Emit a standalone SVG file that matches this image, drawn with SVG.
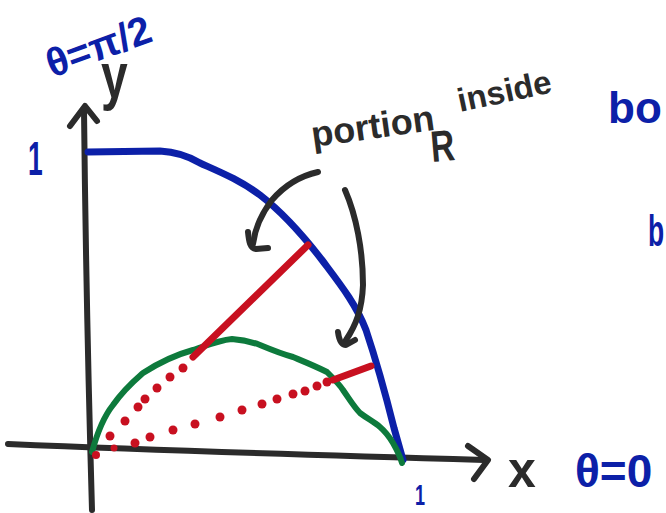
<svg xmlns="http://www.w3.org/2000/svg" width="666" height="513" viewBox="0 0 666 513">
<style>
.ax{fill:none;stroke:#2b2b2b;stroke-width:6;stroke-linecap:round;stroke-linejoin:round}
.bl{fill:none;stroke:#0c20a8;stroke-width:7;stroke-linecap:round;stroke-linejoin:round}
.rd{fill:none;stroke:#c81020;stroke-width:7;stroke-linecap:round}
.gr{fill:none;stroke:#0d7a3c;stroke-width:6;stroke-linecap:round;stroke-linejoin:round}
.dot{fill:#c81020}
.tk{font-family:"Liberation Sans",Arial,sans-serif;font-weight:bold;fill:#2b2b2b}
.tb{font-family:"Liberation Sans",Arial,sans-serif;font-weight:bold;fill:#0c20a8}
</style>
<rect width="666" height="513" fill="#ffffff"/>
<g id="axes">
<path class="ax" d="M84,110 Q86,300 92,510"/>
<path class="ax" d="M70,126 L85,106 L97,121"/>
<path class="ax" d="M8,444 Q200,452 484,460"/>
<path class="ax" d="M468,446 L488,460 L474,479"/>
</g>
<g id="boundary-circle">
<path class="bl" d="M88,152 L160,151 C178,152 190,157 200,163 C220,172 240,180 260,195 C282,212 302,234 322,260 C340,284 356,304 366,330 C376,360 386,396 394,428 L403,460"/>
</g>
<g id="inner-curve">
<path class="gr" d="M92,452 C98,430 105,415 113,405 C125,388 135,380 143,373 C160,362 175,355 193,350 C210,344 220,340 232,339 C245,340 252,342 260,345 C272,350 282,354 293,357 C305,362 315,366 327,372 C335,380 340,385 343,390 C350,400 354,407 360,413 C368,419 374,422 380,427 C387,433 390,438 393,443 C397,450 400,456 402,463"/>
</g>
<g id="red-rays">
<path class="rd" d="M193,357 L308,245"/>
<path class="rd" d="M333,380 L371,366"/>
<circle class="dot" cx="96" cy="455" r="4"/>
<circle class="dot" cx="110" cy="436" r="4.5"/>
<circle class="dot" cx="125" cy="421" r="4.5"/>
<circle class="dot" cx="138" cy="407" r="4.5"/>
<circle class="dot" cx="145" cy="399" r="4.5"/>
<circle class="dot" cx="157" cy="388" r="4.5"/>
<circle class="dot" cx="170" cy="377" r="4.5"/>
<circle class="dot" cx="183" cy="368" r="4.5"/>
<circle class="dot" cx="114" cy="448" r="3.5"/>
<circle class="dot" cx="135" cy="443" r="4.5"/>
<circle class="dot" cx="150" cy="437" r="4.5"/>
<circle class="dot" cx="173" cy="430" r="4.5"/>
<circle class="dot" cx="195" cy="424" r="4.5"/>
<circle class="dot" cx="220" cy="417" r="4.5"/>
<circle class="dot" cx="242" cy="410" r="4.5"/>
<circle class="dot" cx="262" cy="404" r="4.5"/>
<circle class="dot" cx="277" cy="399" r="4.5"/>
<circle class="dot" cx="293" cy="394" r="4.5"/>
<circle class="dot" cx="305" cy="391" r="4.5"/>
<circle class="dot" cx="317" cy="386" r="4.5"/>
<circle class="dot" cx="327" cy="382" r="4.5"/>
</g>
<g id="connectors">
<path class="ax" d="M318,172 C300,176 285,185 272,200 C262,213 255,228 253,244"/>
<path class="ax" d="M248,232 C249,242 250,248 256,249 L268,248"/>
<path class="ax" d="M345,190 C356,215 363,250 363,285 C362,310 356,325 346,340"/>
<path class="ax" d="M338,332 C339,340 341,345 346,345 L355,340"/>
</g>
<g id="labels">
<text class="tb" transform="translate(52,78) rotate(-20)" font-size="40">θ=π/2</text>
<text class="tk" transform="translate(101,98) scale(0.75,1)" font-size="64">y</text>
<text class="tb" transform="translate(28,175) scale(0.55,1)" font-size="48">1</text>
<text class="tk" transform="translate(313,147) rotate(-8)" font-size="36">portion</text>
<text class="tk" transform="translate(460,112) rotate(-12)" font-size="33">inside</text>
<text class="tk" transform="translate(432,162) rotate(-5) scale(0.75,1)" font-size="44">R</text>
<text class="tb" x="608" y="123" font-size="44">bo</text>
<text class="tb" transform="translate(648,246) scale(0.6,1)" font-size="44">b</text>
<text class="tk" x="508" y="487" font-size="50">x</text>
<text class="tb" x="575" y="487" font-size="46">θ=0</text>
<text class="tb" transform="translate(415,505) scale(0.6,1)" font-size="30">1</text>
</g>
</svg>
